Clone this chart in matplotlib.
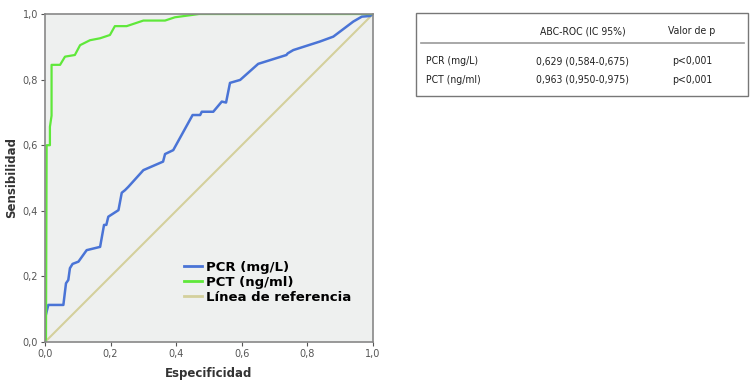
import matplotlib
matplotlib.use('Agg')
import matplotlib.pyplot as plt
from matplotlib.lines import Line2D

# ROC curves (1 - especificidad, sensibilidad)
pcr_x = [0, 0, 0.01, 0.056, 0.064, 0.071, 0.076, 0.084, 0.102, 0.127, 0.168, 0.18, 0.187, 0.193,
         0.224, 0.234, 0.244, 0.254, 0.30, 0.36, 0.366, 0.391, 0.45, 0.473, 0.478, 0.513, 0.539,
         0.552, 0.564, 0.595, 0.65, 0.736, 0.74, 0.757, 0.838, 0.879, 0.94, 0.966, 0.991, 1.0]
pcr_y = [0, 0.072, 0.113, 0.113, 0.179, 0.189, 0.225, 0.238, 0.245, 0.28, 0.29, 0.357, 0.357, 0.382,
         0.402, 0.455, 0.463, 0.473, 0.524, 0.55, 0.573, 0.585, 0.692, 0.692, 0.702, 0.702, 0.733,
         0.73, 0.79, 0.799, 0.848, 0.875, 0.88, 0.89, 0.916, 0.931, 0.977, 0.992, 0.994, 1.0]

pct_x = [0, 0.003, 0.005, 0.015, 0.015, 0.02, 0.02, 0.02, 0.046, 0.061, 0.091, 0.107, 0.137, 0.168,
         0.198, 0.213, 0.249, 0.30, 0.366, 0.396, 0.47, 1.0]
pct_y = [0, 0.01, 0.60, 0.60, 0.656, 0.69, 0.82, 0.845, 0.845, 0.87, 0.875, 0.905, 0.92, 0.926,
         0.936, 0.963, 0.963, 0.98, 0.98, 0.99, 1.0, 1.0]

ref_x = [0, 1]
ref_y = [0, 1]

series_names = ['PCR (mg/L)', 'PCT (ng/ml)', 'Línea de referencia']
table_header = ['', 'ABC-ROC (IC 95%)', 'Valor de p']
table_rows = [['PCR (mg/L)', '0,629 (0,584-0,675)', 'p<0,001'],
              ['PCT (ng/ml)', '0,963 (0,950-0,975)', 'p<0,001']]

blue = '#4a74d6'
green = '#5fe83a'
beige = '#d4d09c'

fig = plt.figure(figsize=(7.52, 3.90), dpi=100)
ax = fig.add_axes([45 / 752, 1 - 342 / 390, 328 / 752, 328 / 390])
ax.set_facecolor('#eef0ef')

ax.plot(ref_x, ref_y, color=beige, lw=1.5)
ax.plot(pcr_x, pcr_y, color=blue, lw=1.8)
ax.plot(pct_x, pct_y, color=green, lw=1.6)

ax.set_xlim(0, 1)
ax.set_ylim(0, 1)
ticks = [0, 0.2, 0.4, 0.6, 0.8, 1.0]
labels = [f'{t:.1f}'.replace('.', ',') for t in ticks]
ax.set_xticks(ticks, labels)
ax.set_yticks(ticks, labels)
ax.tick_params(labelsize=7, colors='#555555', length=3, width=0.8, pad=2)
for s in ax.spines.values():
    s.set_color('#888888')
    s.set_linewidth(1.2)

ax.set_xlabel('Especificidad', fontsize=8.5, fontweight='bold', color='#333333', labelpad=6)
ax.set_ylabel('Sensibilidad', fontsize=8.5, fontweight='bold', color='#333333', labelpad=3)

handles = [Line2D([], [], color=c, lw=2) for c in (blue, green, beige)]
leg = ax.legend(handles, series_names, loc='lower right', bbox_to_anchor=(0.97, 0.08),
                frameon=False, handlelength=1.4, handletextpad=0.3,
                labelspacing=0.15, prop={'weight': 'bold', 'size': 9.5})

# table on the right
fam = ['Liberation Sans Narrow', 'DejaVu Sans']
W, H = 752, 390
def fx(px):
    return px / W
def fy(py):
    return 1 - py / H

fig.patches.append(plt.Rectangle((fx(416), fy(96)), (748 - 416) / W, (96 - 13) / H,
                                 transform=fig.transFigure, fill=False, ec='#777777', lw=1))
fig.lines.append(Line2D([fx(421), fx(744)], [fy(43), fy(43)], transform=fig.transFigure,
                        color='#999999', lw=1.2))

col_x = [426, 583, 692]
col_ha = ['left', 'center', 'center']
for c in (1, 2):
    fig.text(fx(col_x[c]), fy(31), table_header[c], ha='center', va='center', fontsize=7.5,
             family=fam, fontstretch='condensed', color='#222222')
for r, row in enumerate(table_rows):
    yy = [61, 80][r]
    for c, val in enumerate(row):
        fig.text(fx(col_x[c]), fy(yy), val, ha=col_ha[c], va='center', fontsize=7.5, family=fam,
                 fontstretch='condensed', color='#222222')

fig.savefig('out.png', dpi=100)
